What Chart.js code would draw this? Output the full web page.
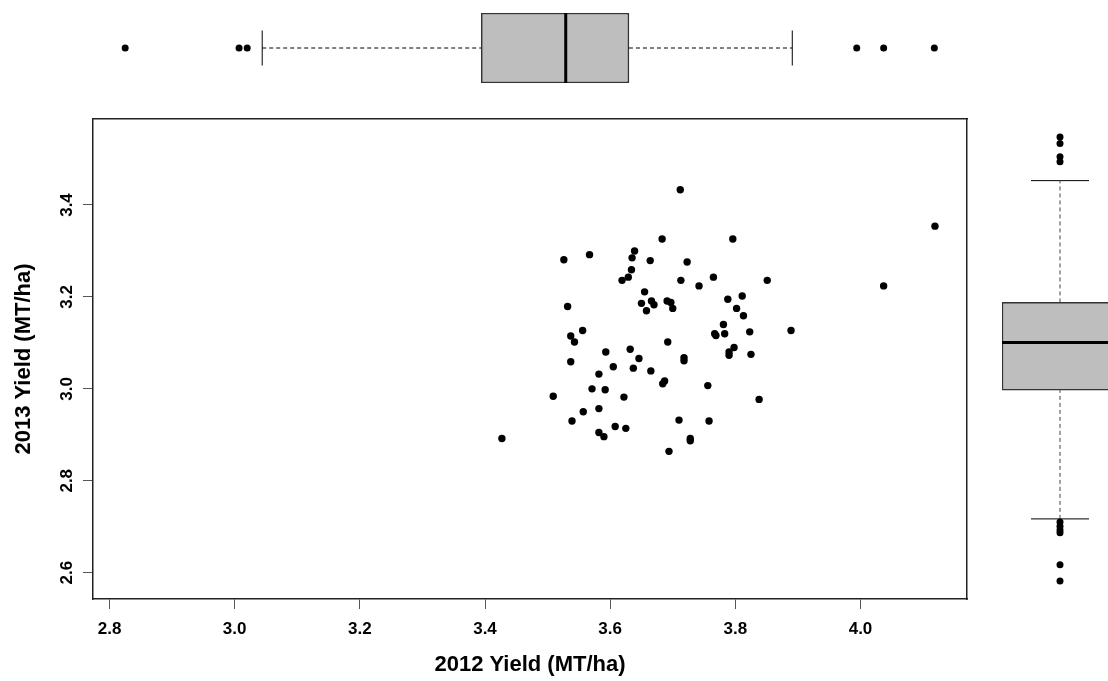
<!DOCTYPE html>
<html>
<head>
<meta charset="utf-8">
<script src="https://cdn.jsdelivr.net/npm/chart.js@4.4.0/dist/chart.umd.min.js"></script>
<style>
  html, body { margin: 0; padding: 0; background: #fff; overflow: hidden; }
  #wrap { position: relative; width: 1108px; height: 681px; overflow: hidden; background: #fff; }
  #wrap canvas { position: absolute; }
</style>
</head>
<body>
<div id="wrap">
  <canvas id="scatter" width="1108" height="681" style="left:0;top:0"></canvas>
  <canvas id="boxTop" width="1108" height="96" style="left:0;top:0"></canvas>
  <canvas id="boxRight" width="186" height="681" style="left:967px;top:0"></canvas>
</div>
<script>
// Yields per site (MT/ha)
const yield2012 = [
  3.712, 3.683, 3.796, 3.526, 3.567, 3.639, 3.635, 3.664, 3.723, 3.634,
  3.629, 3.619, 3.713, 3.765, 3.742, 3.655, 3.532, 3.650, 3.666, 3.670,
  3.658, 3.691, 3.697, 3.700, 3.788, 3.802, 3.811, 3.813, 3.851, 4.119,
  4.037, 3.781, 3.767, 3.769, 3.783, 3.823, 3.889, 3.798, 3.790, 3.790,
  3.825, 3.838, 3.756, 3.758, 3.556, 3.537, 3.543, 3.692, 3.593, 3.632,
  3.646, 3.718, 3.718, 3.537, 3.605, 3.637, 3.665, 3.582, 3.687, 3.684,
  3.571, 3.592, 3.509, 3.622, 3.582, 3.557, 3.539, 3.608, 3.625, 3.710,
  3.582, 3.590, 3.728, 3.728, 3.427, 3.694
];
const yield2013 = [
  3.433, 3.326, 3.326, 3.281, 3.292, 3.300, 3.285, 3.279, 3.276, 3.259,
  3.243, 3.236, 3.236, 3.243, 3.224, 3.211, 3.179, 3.186, 3.191, 3.183,
  3.170, 3.191, 3.188, 3.175, 3.195, 3.175, 3.202, 3.159, 3.236, 3.354,
  3.224, 3.140, 3.120, 3.116, 3.120, 3.124, 3.127, 3.090, 3.080, 3.073,
  3.075, 2.977, 3.007, 2.930, 3.127, 3.115, 3.102, 3.102, 3.080, 3.086,
  3.066, 3.068, 3.061, 3.059, 3.048, 3.045, 3.039, 3.032, 3.017, 3.011,
  3.000, 2.998, 2.984, 2.982, 2.957, 2.950, 2.930, 2.918, 2.914, 2.932,
  2.905, 2.896, 2.892, 2.887, 2.892, 2.864
];

// Boxplot statistics: [lower whisker, Q1, median, Q3, upper whisker]
const box2012 = [3.044, 3.394, 3.529, 3.630, 3.891];
const out2012 = [2.825, 3.007, 3.020, 3.994, 4.037, 4.118];
const box2013 = [2.717, 2.997, 3.101, 3.188, 3.453];
const out2013 = [3.548, 3.534, 3.505, 3.494, 2.710, 2.701, 2.693, 2.687, 2.617, 2.582];

// Axis limits and ticks
const xLimits = [2.7736, 4.1702];
const yLimits = [2.5427, 3.5871];
const xTicks = [2.8, 3.0, 3.2, 3.4, 3.6, 3.8, 4.0];
const yTicks = [2.6, 2.8, 3.0, 3.2, 3.4];

Chart.defaults.font.family = '"Liberation Sans", Arial, sans-serif';
Chart.defaults.color = '#000';

const noPlugins = { legend: { display: false }, tooltip: { enabled: false } };

// a plain line segment dataset
function seg(points, width, dash, color) {
  return {
    data: points,
    showLine: true,
    borderColor: color || '#000',
    borderWidth: width,
    borderDash: dash || [],
    pointRadius: 0,
    order: 1
  };
}

// Main scatter
new Chart(document.getElementById('scatter'), {
  type: 'scatter',
  data: {
    datasets: [{
      data: yield2012.map((x, i) => ({ x: x, y: yield2013[i] })),
      pointRadius: 3.7,
      pointHoverRadius: 3.7,
      backgroundColor: '#000',
      borderColor: '#000',
      borderWidth: 0
    }]
  },
  options: {
    responsive: false,
    animation: false,
    layout: { padding: { top: 119, right: 141, left: 0, bottom: 0 } },
    plugins: noPlugins,
    scales: {
      x: {
        type: 'linear',
        position: 'bottom',
        min: xLimits[0],
        max: xLimits[1],
        afterBuildTicks: a => { a.ticks = xTicks.map(v => ({ value: v })); },
        afterFit: a => { a.height = 82; },
        ticks: {
          font: { size: 17, weight: 'bold' },
          padding: 10,
          maxRotation: 0,
          callback: v => v.toFixed(1)
        },
        grid: { drawOnChartArea: false, tickLength: 10, color: '#555' },
        border: { color: '#222', width: 1.5 },
        title: {
          display: true,
          text: '2012 Yield (MT/ha)',
          font: { size: 22, weight: 'bold' },
          padding: { top: 0, bottom: 3 }
        }
      },
      y: {
        type: 'linear',
        position: 'left',
        min: yLimits[0],
        max: yLimits[1],
        afterBuildTicks: a => { a.ticks = yTicks.map(v => ({ value: v })); },
        afterFit: a => { a.width = 93; },
        ticks: {
          font: { size: 17, weight: 'bold' },
          padding: 4,
          minRotation: 90,
          maxRotation: 90,
          crossAlign: 'center',
          callback: v => v.toFixed(1)
        },
        grid: { drawOnChartArea: false, tickLength: 10, color: '#555' },
        border: { color: '#222', width: 1.5 },
        title: {
          display: true,
          text: '2013 Yield (MT/ha)',
          font: { size: 22, weight: 'bold' },
          padding: { top: 11, bottom: 0 }
        }
      },
      x2: {
        type: 'linear',
        position: 'top',
        min: xLimits[0],
        max: xLimits[1],
        ticks: { display: false },
        grid: { drawOnChartArea: false, drawTicks: false },
        border: { color: '#222', width: 1.5 },
        afterFit: a => { a.height = 0; }
      },
      y2: {
        type: 'linear',
        position: 'right',
        min: yLimits[0],
        max: yLimits[1],
        ticks: { display: false },
        grid: { drawOnChartArea: false, drawTicks: false },
        border: { color: '#222', width: 1.5 },
        afterFit: a => { a.width = 0; }
      }
    }
  }
});

// Top marginal boxplot (2012), horizontal
const [lo12, q1_12, md12, q3_12, hi12] = box2012;
new Chart(document.getElementById('boxTop'), {
  type: 'scatter',
  data: {
    datasets: [
      {
        type: 'bar',
        indexAxis: 'y',
        data: [{ x: [q1_12, q3_12], y: 0 }],
        backgroundColor: '#bebebe',
        borderColor: '#333',
        borderWidth: 1.5,
        borderSkipped: false,
        barThickness: 70,
        order: 3
      },
      seg([{ x: md12, y: -1 }, { x: md12, y: 1 }], 3),
      seg([{ x: lo12, y: 0 }, { x: q1_12, y: 0 }], 1, [4, 3]),
      seg([{ x: q3_12, y: 0 }, { x: hi12, y: 0 }], 1, [4, 3]),
      seg([{ x: lo12, y: -0.5 }, { x: lo12, y: 0.5 }], 1),
      seg([{ x: hi12, y: -0.5 }, { x: hi12, y: 0.5 }], 1),
      {
        data: out2012.map(v => ({ x: v, y: 0 })),
        pointRadius: 3.5,
        backgroundColor: '#000',
        borderWidth: 0,
        order: 0
      }
    ]
  },
  options: {
    responsive: false,
    animation: false,
    layout: { padding: { left: 93, right: 141, top: 13, bottom: 13 } },
    plugins: noPlugins,
    scales: {
      x: { type: 'linear', display: false, offset: false, min: xLimits[0], max: xLimits[1] },
      y: { type: 'linear', display: false, offset: false, min: -1, max: 1 }
    }
  }
});

// Right marginal boxplot (2013), vertical
const [lo13, q1_13, md13, q3_13, hi13] = box2013;
new Chart(document.getElementById('boxRight'), {
  type: 'scatter',
  data: {
    datasets: [
      {
        type: 'bar',
        data: [{ x: 0, y: [q1_13, q3_13] }],
        backgroundColor: '#bebebe',
        borderColor: '#333',
        borderWidth: 1.5,
        borderSkipped: false,
        barThickness: 116,
        order: 3
      },
      seg([{ x: -1, y: md13 }, { x: 1, y: md13 }], 3),
      seg([{ x: 0, y: lo13 }, { x: 0, y: q1_13 }], 1, [4, 3], '#444'),
      seg([{ x: 0, y: q3_13 }, { x: 0, y: hi13 }], 1, [4, 3], '#444'),
      seg([{ x: -0.5, y: lo13 }, { x: 0.5, y: lo13 }], 1),
      seg([{ x: -0.5, y: hi13 }, { x: 0.5, y: hi13 }], 1),
      {
        data: out2013.map(v => ({ x: 0, y: v })),
        pointRadius: 3.5,
        backgroundColor: '#000',
        borderWidth: 0,
        order: 0
      }
    ]
  },
  options: {
    responsive: false,
    animation: false,
    layout: { padding: { left: 35, right: 35, top: 119, bottom: 82 } },
    plugins: noPlugins,
    scales: {
      x: { type: 'linear', display: false, offset: false, min: -1, max: 1 },
      y: { type: 'linear', display: false, offset: false, min: yLimits[0], max: yLimits[1] }
    }
  }
});
</script>
</body>
</html>
